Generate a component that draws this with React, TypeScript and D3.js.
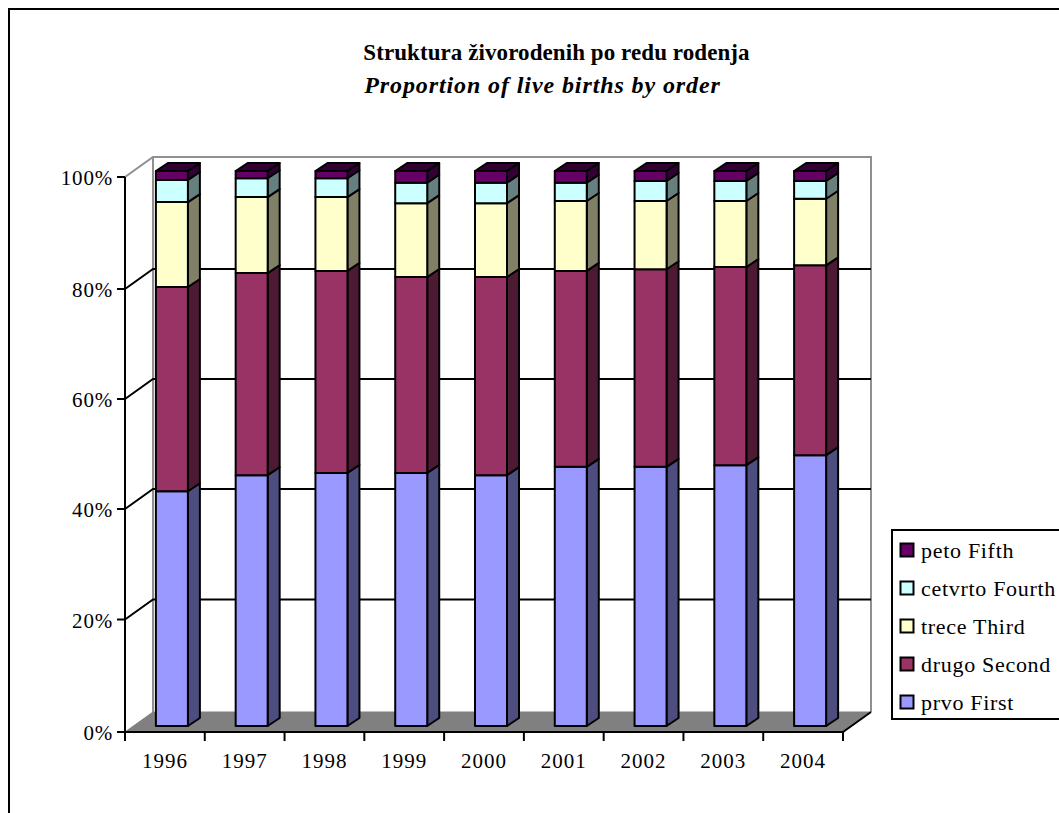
import React from "react";
import * as d3 from "d3";

const years = ["1996", "1997", "1998", "1999", "2000", "2001", "2002", "2003", "2004"];
const first = [42.3, 45.2, 45.6, 45.6, 45.2, 46.7, 46.7, 47.0, 48.8];
const second = [36.8, 36.4, 36.4, 35.3, 35.7, 35.3, 35.6, 35.7, 34.2];
const third = [15.3, 13.7, 13.3, 13.3, 13.3, 12.6, 12.3, 11.9, 12.0];
const fourth = [4.0, 3.4, 3.4, 3.7, 3.7, 3.3, 3.6, 3.6, 3.2];
const fifth = [1.6, 1.3, 1.3, 2.1, 2.1, 2.1, 1.8, 1.8, 1.8];
const seriesNames = ["prvo First", "drugo Second", "trece Third", "cetvrto Fourth", "peto Fifth"];
const frontColors = ["#9999ff", "#993366", "#ffffcc", "#ccffff", "#660066"];
const sideColors = ["#4d4d80", "#4d1a33", "#808066", "#668080", "#330033"];
const yTicks = [0, 20, 40, 60, 80, 100];
const title = "Struktura živorodenih po redu rodenja";
const subtitle = "Proportion of live births by order";

const FONT = "'Liberation Serif', 'Times New Roman', serif";
const axisLeft = 125, axisRight = 843, axisTop = 177, axisBottom = 732;
const wallDx = 28, wallDy = -20;
const barInset = { x: 8, y: -6 };
const barDepth = { x: 12, y: -8 };

export default function App() {
  const rows = years.map((y, i) => ({
    year: y,
    [seriesNames[0]]: first[i],
    [seriesNames[1]]: second[i],
    [seriesNames[2]]: third[i],
    [seriesNames[3]]: fourth[i],
    [seriesNames[4]]: fifth[i],
  }));
  const stacked = d3.stack<any>().keys(seriesNames)(rows);
  const yScale = d3.scaleLinear().domain([0, 100]).range([axisBottom, axisTop]);
  const tickScale = d3.scaleLinear().domain(yTicks).range([732, 619.5, 509, 399, 289, 177]);
  const xScale = d3.scaleBand().domain(years).range([axisLeft, axisRight]).paddingInner(0).paddingOuter(0);
  const barW = 32;
  const line = d3.line();
  const pts = (p: [number, number][]) => line(p)! + "Z";

  const legendY = [702, 664, 626, 588, 550];

  return (
    <svg width={1059} height={813} style={{ position: "fixed", left: 0, top: 0, display: "block", background: "#fff" }} fontFamily={FONT}>
      <path d="M9,813V9H1059" fill="none" stroke="#000" strokeWidth={2} />
      <text x={556.5} y={60} textAnchor="middle" fontSize={23} fontWeight="bold" letterSpacing={0.08}>{title}</text>
      <text x={542.5} y={93} textAnchor="middle" fontSize={24} fontWeight="bold" fontStyle="italic" letterSpacing={0.9}>{subtitle}</text>

      {/* walls */}
      <path d={pts([[axisLeft, axisBottom], [axisRight, axisBottom], [axisRight + wallDx, axisBottom + wallDy], [axisLeft + wallDx, axisBottom + wallDy]])} fill="#808080" stroke="#808080" strokeWidth={1} />
      <path d={`M${axisLeft},${axisTop}L${axisLeft + wallDx},${axisTop + wallDy}H${axisRight + wallDx}V${axisBottom + wallDy}`} fill="none" stroke="#909090" strokeWidth={2} />
      <path d={`M${axisLeft + wallDx},${axisTop + wallDy}V${axisBottom + wallDy}`} fill="none" stroke="#909090" strokeWidth={2} />

      {/* gridlines */}
      {yTicks.slice(1, 5).map((t) => (
        <path key={t} d={`M${axisLeft},${tickScale(t)}L${axisLeft + wallDx},${tickScale(t) + wallDy}H${axisRight + wallDx}`} fill="none" stroke="#000" strokeWidth={2} />
      ))}
      <path d={`M${axisRight},${axisBottom}L${axisRight + wallDx},${axisBottom + wallDy}`} stroke="#000" strokeWidth={2} fill="none" />

      {/* bars */}
      {years.map((yr, i) => {
        const x0 = xScale(yr)! + barInset.x + (xScale.bandwidth() - barInset.x * 2 - barW) / 2 + 7;
        const x1 = x0 + barW;
        return (
          <g key={yr} stroke="#000" strokeWidth={2} strokeLinejoin="round">
            {stacked.map((s, k) => {
              const yb = yScale(s[i][0]) + barInset.y;
              const yt = yScale(s[i][1]) + barInset.y;
              return (
                <g key={k}>
                  <path d={pts([[x1, yb], [x1 + barDepth.x, yb + barDepth.y], [x1 + barDepth.x, yt + barDepth.y], [x1, yt]])} fill={sideColors[k]} />
                  <rect x={x0} y={yt} width={barW} height={yb - yt} fill={frontColors[k]} />
                  {k === stacked.length - 1 && (
                    <path d={pts([[x0, yt], [x1, yt], [x1 + barDepth.x, yt + barDepth.y], [x0 + barDepth.x, yt + barDepth.y]])} fill={sideColors[k]} />
                  )}
                </g>
              );
            })}
          </g>
        );
      })}

      {/* axes */}
      <path d={`M${axisLeft},${axisTop}V${axisBottom}H${axisRight}`} fill="none" stroke="#000" strokeWidth={2} />
      {yTicks.map((t) => (
        <g key={t}>
          <line x1={axisLeft - 8} x2={axisLeft} y1={tickScale(t)} y2={tickScale(t)} stroke="#000" strokeWidth={2} />
          <text x={113} y={tickScale(t) + 8} textAnchor="end" fontSize={21} letterSpacing={0.8}>{t}%</text>
        </g>
      ))}
      {[...years.map((y) => xScale(y)!), axisRight].map((x, i) => (
        <line key={i} x1={x} x2={x} y1={axisBottom} y2={axisBottom + 9} stroke="#000" strokeWidth={2} />
      ))}
      {years.map((y) => (
        <text key={y} x={xScale(y)! + xScale.bandwidth() / 2} y={768} textAnchor="middle" fontSize={21} letterSpacing={1}>{y}</text>
      ))}

      {/* legend */}
      <rect x={892} y={530} width={180} height={189} fill="#fff" stroke="#000" strokeWidth={2} />
      {seriesNames.map((n, k) => (
        <g key={n}>
          <rect x={900.5} y={legendY[k] - 6.5} width={13} height={13} fill={frontColors[k]} stroke="#000" strokeWidth={2} />
          <text x={921} y={legendY[k] + 8} fontSize={22} letterSpacing={0.7}>{n}</text>
        </g>
      ))}
    </svg>
  );
}
